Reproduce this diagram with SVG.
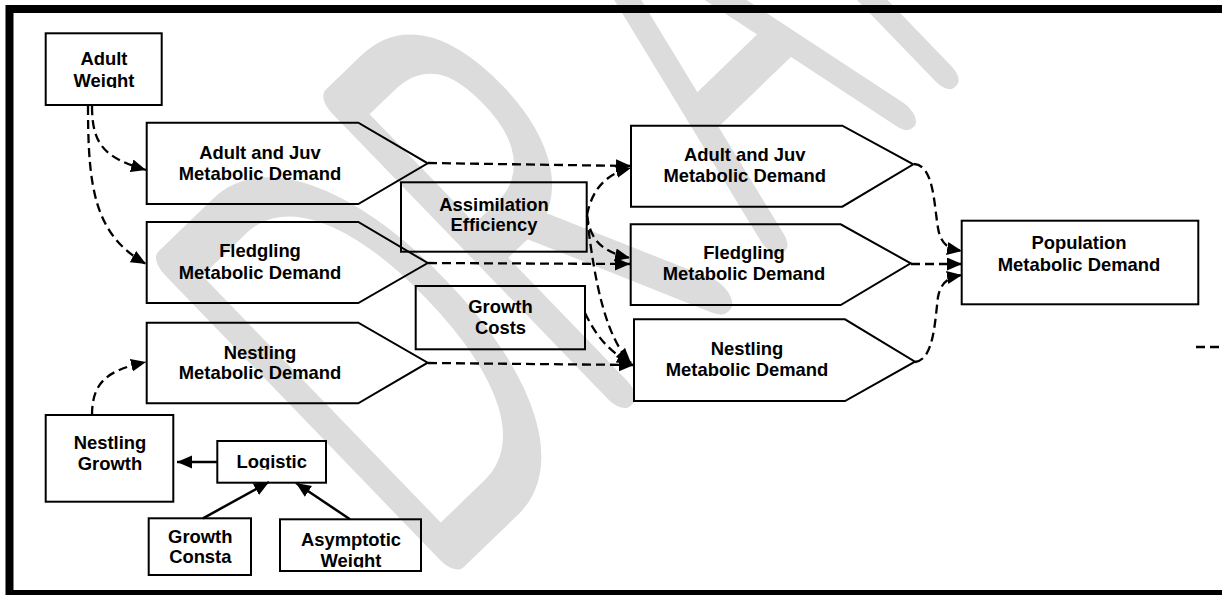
<svg xmlns="http://www.w3.org/2000/svg" width="1222" height="595" viewBox="0 0 1222 595">
<style>
.box{fill:none;stroke:#000;stroke-width:2}
.lbl{font-family:"Liberation Sans",Arial,sans-serif;font-weight:bold;font-size:18.4px;fill:#000;text-anchor:middle}
.dash{fill:none;stroke:#000;stroke-width:2.3;stroke-dasharray:9 5}
.solid{fill:none;stroke:#000;stroke-width:2.5}
.wm{font-family:Lato,Inter,Roboto,"DejaVu Sans",sans-serif;font-weight:100;font-size:567px;fill:#dcdcdc;stroke:#dcdcdc;stroke-width:34;stroke-linejoin:round;stroke-linecap:round}
</style>
<defs>
<marker id="ah" markerUnits="userSpaceOnUse" markerWidth="16" markerHeight="14" refX="15" refY="6.5" orient="auto">
<path d="M0,0 L15,6.5 L0,13 Z" fill="#000"/>
</marker>
<clipPath id="cAW"><rect x="40" y="30" width="130" height="58"/></clipPath>
<clipPath id="cLog"><rect x="210" y="440" width="120" height="29.5"/></clipPath>
<clipPath id="cGC"><rect x="140" y="515" width="120" height="49.5"/></clipPath>
<clipPath id="cAsy"><rect x="275" y="515" width="150" height="52.5"/></clipPath>
</defs>
<rect width="1222" height="595" fill="#fff"/>
<g id="watermark">
<text class="wm" vector-effect="non-scaling-stroke" transform="translate(423,577) rotate(-44) scale(0.54,1)" x="0" y="0">DR<tspan dx="120">A</tspan><tspan dx="25">FT</tspan></text>
</g>
<rect x="9.5" y="9" width="1240" height="585" fill="none" stroke="#000" stroke-width="8"/>
<g id="connectors">
<path class="dash" d="M92,106 C92,145 105,158 146,170" marker-end="url(#ah)"/>
<path class="dash" d="M88,106 C88,190 95,235 146,264" marker-end="url(#ah)"/>
<path class="dash" d="M92,415 C92,380 110,370 146,362" marker-end="url(#ah)"/>
<path class="dash" d="M428,163 L631,166" marker-end="url(#ah)"/>
<path class="dash" d="M428,263 L630,264" marker-end="url(#ah)"/>
<path class="dash" d="M428,363 L634,365" marker-end="url(#ah)"/>
<path class="dash" d="M587,215 C592,190 605,174 631,168" marker-end="url(#ah)"/>
<path class="dash" d="M587,215 C590,240 602,252 630,258" marker-end="url(#ah)"/>
<path class="dash" d="M587,216 C595,290 608,340 631,363" marker-end="url(#ah)"/>
<path class="dash" d="M585,313 C597,338 610,352 632,364" marker-end="url(#ah)"/>
<path class="dash" d="M914,164 C934,165 934,205 938,228 C941,246 950,249 962,251" marker-end="url(#ah)"/>
<path class="dash" d="M911,264 L962,264" marker-end="url(#ah)"/>
<path class="dash" d="M915,362 C934,360 935,320 938,297 C941,281 950,277 962,275" marker-end="url(#ah)"/>
<path class="dash" d="M1196,347 L1222,347"/>
<path class="solid" d="M217.3,462 L177,462" marker-end="url(#ah)"/>
<path class="solid" d="M203,518.3 L269,482" marker-end="url(#ah)"/>
<path class="solid" d="M350,519.3 L296,483" marker-end="url(#ah)"/>
</g>
<g id="adult-weight">
<rect class="box" x="45.7" y="33.3" width="116" height="71.7"/>
<g clip-path="url(#cAW)"><text class="lbl" x="104" y="65">Adult</text><text class="lbl" x="104" y="86.7">Weight</text></g>
</g>
<g id="adult-juv-left">
<path class="box" d="M146.7,122.7 H358.3 L427.7,163.3 L358.3,204 H146.7 Z"/>
<text class="lbl" x="260" y="159.3">Adult and Juv</text><text class="lbl" x="260" y="180">Metabolic Demand</text>
</g>
<g id="fledgling-left">
<path class="box" d="M146.7,222 H358.3 L427.7,263 L358.3,303 H146.7 Z"/>
<text class="lbl" x="260" y="257.4">Fledgling</text><text class="lbl" x="260" y="279.4">Metabolic Demand</text>
</g>
<g id="nestling-left">
<path class="box" d="M146.7,322.7 H358.3 L427.7,362.7 L358.3,403.3 H146.7 Z"/>
<text class="lbl" x="260" y="358.6">Nestling</text><text class="lbl" x="260" y="379.3">Metabolic Demand</text>
</g>
<g id="assimilation">
<rect class="box" x="401" y="182.3" width="185.7" height="69.4"/>
<text class="lbl" x="494" y="210.6">Assimilation</text><text class="lbl" x="494" y="231.2">Efficiency</text>
</g>
<g id="growth-costs">
<rect class="box" x="415.7" y="286" width="169.3" height="63.3"/>
<text class="lbl" x="500.5" y="313.3">Growth</text><text class="lbl" x="500.5" y="333.5">Costs</text>
</g>
<g id="adult-juv-right">
<path class="box" d="M631,125.7 H842.3 L913.3,164.3 L842.3,206.7 H631 Z"/>
<text class="lbl" x="744.7" y="161">Adult and Juv</text><text class="lbl" x="744.7" y="181.8">Metabolic Demand</text>
</g>
<g id="fledgling-right">
<path class="box" d="M630.7,224.3 H840.7 L910.7,263.3 L840.7,305 H630.7 Z"/>
<text class="lbl" x="744" y="259">Fledgling</text><text class="lbl" x="744" y="280">Metabolic Demand</text>
</g>
<g id="nestling-right">
<path class="box" d="M634,319.3 H845 L915,361.7 L845,401 H634 Z"/>
<text class="lbl" x="747" y="355">Nestling</text><text class="lbl" x="747" y="376">Metabolic Demand</text>
</g>
<g id="population">
<rect class="box" x="961.7" y="220.7" width="236.6" height="83.6"/>
<text class="lbl" x="1079" y="249.4">Population</text><text class="lbl" x="1079" y="271">Metabolic Demand</text>
</g>
<g id="nestling-growth">
<rect class="box" x="45.7" y="415" width="127.6" height="86.7"/>
<text class="lbl" x="110" y="449">Nestling</text><text class="lbl" x="110" y="470">Growth</text>
</g>
<g id="logistic">
<rect class="box" x="217.3" y="441" width="108.7" height="41.7"/>
<g clip-path="url(#cLog)"><text class="lbl" x="271.7" y="468.3">Logistic</text></g>
</g>
<g id="growth-constant">
<rect class="box" x="148.7" y="518.3" width="102.3" height="56.7"/>
<g clip-path="url(#cGC)"><text class="lbl" x="200.3" y="543.3">Growth</text><text class="lbl" x="200.3" y="563.3">Consta</text></g>
</g>
<g id="asymptotic-weight">
<rect class="box" x="280" y="519.3" width="141" height="51.7"/>
<g clip-path="url(#cAsy)"><text class="lbl" x="351" y="546">Asymptotic</text><text class="lbl" x="351" y="566.7">Weight</text></g>
</g>
</svg>
